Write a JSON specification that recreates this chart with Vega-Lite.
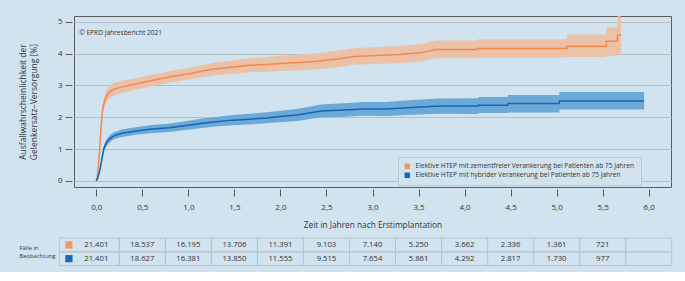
{
  "$schema": "https://vega.github.io/schema/vega-lite/v6.json",
  "background": "#d1e3ef",
  "padding": {"left": 17, "top": 15, "right": 15, "bottom": 5},
  "config": {
    "font": "Open Sans",
    "view": {"stroke": null},
    "axis": {"labelColor": "#333333", "titleColor": "#333333", "titleFontWeight": "normal", "tickColor": "#5a5a5a"}
  },
  "spacing": 8,
  "resolve": {"scale": {"x": "independent", "y": "independent", "color": "independent"}},
  "datasets": {
    "curves": [
      {"serie": "zementfrei", "t": 0, "v": 0, "lo": 0, "hi": 0},
      {"serie": "zementfrei", "t": 0.01, "v": 0.15, "lo": 0.1, "hi": 0.2},
      {"serie": "zementfrei", "t": 0.02, "v": 0.4, "lo": 0.3, "hi": 0.5},
      {"serie": "zementfrei", "t": 0.03, "v": 0.7, "lo": 0.58, "hi": 0.82},
      {"serie": "zementfrei", "t": 0.04, "v": 1.15, "lo": 1.0, "hi": 1.3},
      {"serie": "zementfrei", "t": 0.05, "v": 1.6, "lo": 1.44, "hi": 1.76},
      {"serie": "zementfrei", "t": 0.065, "v": 2.15, "lo": 1.98, "hi": 2.33},
      {"serie": "zementfrei", "t": 0.08, "v": 2.4, "lo": 2.22, "hi": 2.58},
      {"serie": "zementfrei", "t": 0.1, "v": 2.6, "lo": 2.41, "hi": 2.79},
      {"serie": "zementfrei", "t": 0.13, "v": 2.75, "lo": 2.55, "hi": 2.95},
      {"serie": "zementfrei", "t": 0.17, "v": 2.85, "lo": 2.65, "hi": 3.05},
      {"serie": "zementfrei", "t": 0.21, "v": 2.9, "lo": 2.7, "hi": 3.1},
      {"serie": "zementfrei", "t": 0.3, "v": 2.97, "lo": 2.78, "hi": 3.16},
      {"serie": "zementfrei", "t": 0.45, "v": 3.06, "lo": 2.88, "hi": 3.24},
      {"serie": "zementfrei", "t": 0.63, "v": 3.17, "lo": 2.99, "hi": 3.35},
      {"serie": "zementfrei", "t": 0.8, "v": 3.27, "lo": 3.09, "hi": 3.45},
      {"serie": "zementfrei", "t": 1.0, "v": 3.36, "lo": 3.18, "hi": 3.55},
      {"serie": "zementfrei", "t": 1.15, "v": 3.45, "lo": 3.26, "hi": 3.64},
      {"serie": "zementfrei", "t": 1.3, "v": 3.52, "lo": 3.32, "hi": 3.72},
      {"serie": "zementfrei", "t": 1.5, "v": 3.58, "lo": 3.37, "hi": 3.79},
      {"serie": "zementfrei", "t": 1.66, "v": 3.63, "lo": 3.41, "hi": 3.85},
      {"serie": "zementfrei", "t": 1.85, "v": 3.66, "lo": 3.43, "hi": 3.89},
      {"serie": "zementfrei", "t": 2.0, "v": 3.69, "lo": 3.45, "hi": 3.93},
      {"serie": "zementfrei", "t": 2.2, "v": 3.72, "lo": 3.47, "hi": 3.97},
      {"serie": "zementfrei", "t": 2.4, "v": 3.76, "lo": 3.51, "hi": 4.01},
      {"serie": "zementfrei", "t": 2.6, "v": 3.82, "lo": 3.56, "hi": 4.08},
      {"serie": "zementfrei", "t": 2.8, "v": 3.91, "lo": 3.65, "hi": 4.17},
      {"serie": "zementfrei", "t": 3.04, "v": 3.94, "lo": 3.67, "hi": 4.21},
      {"serie": "zementfrei", "t": 3.29, "v": 3.97, "lo": 3.7, "hi": 4.24},
      {"serie": "zementfrei", "t": 3.54, "v": 4.03, "lo": 3.75, "hi": 4.31},
      {"serie": "zementfrei", "t": 3.69, "v": 4.13, "lo": 3.85, "hi": 4.41},
      {"serie": "zementfrei", "t": 4.14, "v": 4.13, "lo": 3.85, "hi": 4.41},
      {"serie": "zementfrei", "t": 4.14, "v": 4.16, "lo": 3.88, "hi": 4.45},
      {"serie": "zementfrei", "t": 5.11, "v": 4.16, "lo": 3.88, "hi": 4.45},
      {"serie": "zementfrei", "t": 5.11, "v": 4.23, "lo": 3.89, "hi": 4.6},
      {"serie": "zementfrei", "t": 5.54, "v": 4.23, "lo": 3.89, "hi": 4.6},
      {"serie": "zementfrei", "t": 5.54, "v": 4.39, "lo": 3.93, "hi": 4.82},
      {"serie": "zementfrei", "t": 5.66, "v": 4.39, "lo": 3.93, "hi": 4.82},
      {"serie": "zementfrei", "t": 5.66, "v": 4.58, "lo": 4.0, "hi": 5.17},
      {"serie": "zementfrei", "t": 5.7, "v": 4.58, "lo": 4.0, "hi": 5.17},
      {"serie": "hybrid", "t": 0, "v": 0, "lo": 0, "hi": 0},
      {"serie": "hybrid", "t": 0.015, "v": 0.08, "lo": 0.05, "hi": 0.11},
      {"serie": "hybrid", "t": 0.03, "v": 0.24, "lo": 0.18, "hi": 0.3},
      {"serie": "hybrid", "t": 0.05, "v": 0.5, "lo": 0.42, "hi": 0.58},
      {"serie": "hybrid", "t": 0.065, "v": 0.76, "lo": 0.67, "hi": 0.85},
      {"serie": "hybrid", "t": 0.083, "v": 1.02, "lo": 0.92, "hi": 1.12},
      {"serie": "hybrid", "t": 0.1, "v": 1.14, "lo": 1.04, "hi": 1.25},
      {"serie": "hybrid", "t": 0.12, "v": 1.24, "lo": 1.13, "hi": 1.35},
      {"serie": "hybrid", "t": 0.15, "v": 1.33, "lo": 1.22, "hi": 1.44},
      {"serie": "hybrid", "t": 0.18, "v": 1.4, "lo": 1.29, "hi": 1.51},
      {"serie": "hybrid", "t": 0.23, "v": 1.46, "lo": 1.35, "hi": 1.57},
      {"serie": "hybrid", "t": 0.28, "v": 1.5, "lo": 1.38, "hi": 1.62},
      {"serie": "hybrid", "t": 0.43, "v": 1.57, "lo": 1.45, "hi": 1.69},
      {"serie": "hybrid", "t": 0.6, "v": 1.63, "lo": 1.5, "hi": 1.76},
      {"serie": "hybrid", "t": 0.79, "v": 1.67, "lo": 1.54, "hi": 1.8},
      {"serie": "hybrid", "t": 1.0, "v": 1.75, "lo": 1.61, "hi": 1.89},
      {"serie": "hybrid", "t": 1.15, "v": 1.81, "lo": 1.66, "hi": 1.96},
      {"serie": "hybrid", "t": 1.3, "v": 1.86, "lo": 1.71, "hi": 2.01},
      {"serie": "hybrid", "t": 1.48, "v": 1.91, "lo": 1.75, "hi": 2.07},
      {"serie": "hybrid", "t": 1.66, "v": 1.94, "lo": 1.77, "hi": 2.11},
      {"serie": "hybrid", "t": 1.85, "v": 1.98, "lo": 1.81, "hi": 2.16},
      {"serie": "hybrid", "t": 2.02, "v": 2.03, "lo": 1.85, "hi": 2.21},
      {"serie": "hybrid", "t": 2.18, "v": 2.07, "lo": 1.88, "hi": 2.26},
      {"serie": "hybrid", "t": 2.44, "v": 2.2, "lo": 2.0, "hi": 2.4},
      {"serie": "hybrid", "t": 2.69, "v": 2.23, "lo": 2.02, "hi": 2.44},
      {"serie": "hybrid", "t": 2.91, "v": 2.26, "lo": 2.05, "hi": 2.48},
      {"serie": "hybrid", "t": 3.15, "v": 2.26, "lo": 2.04, "hi": 2.48},
      {"serie": "hybrid", "t": 3.43, "v": 2.31, "lo": 2.08, "hi": 2.54},
      {"serie": "hybrid", "t": 3.73, "v": 2.35, "lo": 2.11, "hi": 2.59},
      {"serie": "hybrid", "t": 4.15, "v": 2.35, "lo": 2.1, "hi": 2.6},
      {"serie": "hybrid", "t": 4.15, "v": 2.38, "lo": 2.13, "hi": 2.64},
      {"serie": "hybrid", "t": 4.47, "v": 2.38, "lo": 2.13, "hi": 2.64},
      {"serie": "hybrid", "t": 4.47, "v": 2.43, "lo": 2.15, "hi": 2.7},
      {"serie": "hybrid", "t": 5.03, "v": 2.43, "lo": 2.15, "hi": 2.7},
      {"serie": "hybrid", "t": 5.03, "v": 2.51, "lo": 2.24, "hi": 2.79},
      {"serie": "hybrid", "t": 5.95, "v": 2.51, "lo": 2.24, "hi": 2.79}
    ],
    "table": [
      {"serie": "zementfrei", "t": 0.0, "n": "21.401"},
      {"serie": "zementfrei", "t": 0.5, "n": "18.537"},
      {"serie": "zementfrei", "t": 1.0, "n": "16.195"},
      {"serie": "zementfrei", "t": 1.5, "n": "13.706"},
      {"serie": "zementfrei", "t": 2.0, "n": "11.391"},
      {"serie": "zementfrei", "t": 2.5, "n": "9.103"},
      {"serie": "zementfrei", "t": 3.0, "n": "7.140"},
      {"serie": "zementfrei", "t": 3.5, "n": "5.250"},
      {"serie": "zementfrei", "t": 4.0, "n": "3.662"},
      {"serie": "zementfrei", "t": 4.5, "n": "2.336"},
      {"serie": "zementfrei", "t": 5.0, "n": "1.361"},
      {"serie": "zementfrei", "t": 5.5, "n": "721"},
      {"serie": "zementfrei", "t": 6.0, "n": ""},
      {"serie": "hybrid", "t": 0.0, "n": "21.401"},
      {"serie": "hybrid", "t": 0.5, "n": "18.627"},
      {"serie": "hybrid", "t": 1.0, "n": "16.381"},
      {"serie": "hybrid", "t": 1.5, "n": "13.850"},
      {"serie": "hybrid", "t": 2.0, "n": "11.555"},
      {"serie": "hybrid", "t": 2.5, "n": "9.515"},
      {"serie": "hybrid", "t": 3.0, "n": "7.654"},
      {"serie": "hybrid", "t": 3.5, "n": "5.861"},
      {"serie": "hybrid", "t": 4.0, "n": "4.292"},
      {"serie": "hybrid", "t": 4.5, "n": "2.817"},
      {"serie": "hybrid", "t": 5.0, "n": "1.730"},
      {"serie": "hybrid", "t": 5.5, "n": "977"},
      {"serie": "hybrid", "t": 6.0, "n": ""}
    ]
  },
  "vconcat": [
    {
      "name": "top",
      "width": 597,
      "height": 171,
      "view": {"stroke": "#5a5a5a", "strokeWidth": 1},
      "data": {"name": "curves"},
      "encoding": {
        "x": {
          "field": "t", "type": "quantitative",
          "scale": {"domain": [-0.242, 6.242], "nice": false, "zero": false},
          "axis": {
            "title": "Zeit in Jahren nach Erstimplantation",
            "values": [0, 0.5, 1, 1.5, 2, 2.5, 3, 3.5, 4, 4.5, 5, 5.5, 6], "tickCount": 20,
            "labelExpr": "replace(format(datum.value, '.1f'), '.', ',')",
            "grid": false, "domain": false, "offset": 2, "tickSize": 7,
            "labelPadding": 7, "labelFontSize": 8, "titleFontSize": 8.3, "titlePadding": 9
          }
        }
      },
      "layer": [
        {
          "mark": {"type": "area", "opacity": 1},
          "encoding": {
            "y": {
              "field": "lo", "type": "quantitative",
              "scale": {"domain": [-0.19, 5.18], "nice": false, "zero": false},
              "axis": {
                "title": ["Ausfallwahrscheinlichkeit der", "Gelenkersatz\u2013Versorgung [%]"],
                "values": [0, 1, 2, 3, 4, 5], "tickCount": 10, "format": "d", "labelOverlap": false,
                "grid": true, "gridColor": "#b4bec6", "domain": false,
                "offset": 2, "tickSize": 7, "labelPadding": 3, "labelFontSize": 8,
                "titleFontSize": 8.5, "titlePadding": 19, "titleLineHeight": 11
              }
            },
            "y2": {"field": "hi"},
            "fill": {
              "field": "serie", "type": "nominal",
              "scale": {"domain": ["zementfrei", "hybrid"], "range": ["#ebc2a8", "#6ba9d8"]},
              "legend": null
            }
          }
        },
        {
          "mark": {"type": "line", "strokeWidth": 1.5},
          "encoding": {
            "y": {
              "field": "v", "type": "quantitative",
              "scale": {"domain": [-0.19, 5.18], "nice": false, "zero": false},
              "axis": {
                "title": ["Ausfallwahrscheinlichkeit der", "Gelenkersatz\u2013Versorgung [%]"],
                "values": [0, 1, 2, 3, 4, 5], "tickCount": 10, "format": "d", "labelOverlap": false,
                "grid": true, "gridColor": "#b4bec6", "domain": false,
                "offset": 2, "tickSize": 7, "labelPadding": 3, "labelFontSize": 8,
                "titleFontSize": 8.5, "titlePadding": 19, "titleLineHeight": 11
              }
            },
            "color": {
              "field": "serie", "type": "nominal",
              "scale": {"domain": ["zementfrei", "hybrid"], "range": ["#f28a4c", "#1565b0"]},
              "legend": {
                "orient": "none", "legendX": 324, "legendY": 141,
                "title": null, "symbolType": "square", "symbolSize": 30,
                "labelFontSize": 6.6, "labelColor": "#333333", "labelOffset": 5, "labelLimit": 400,
                "padding": 6, "rowPadding": 2,
                "strokeColor": "#bcc7cf", "fillColor": "#d1e3ef",
                "labelExpr": "datum.label == 'zementfrei' ? 'Elektive HTEP mit zementfreier Verankerung bei Patienten ab 75 Jahren' : 'Elektive HTEP mit hybrider Verankerung bei Patienten ab 75 Jahren'",
                "encode": {
                  "symbols": {
                    "update": {
                      "fill": {"signal": "datum.value == 'zementfrei' ? '#f4975c' : '#1868b3'"},
                      "strokeWidth": {"value": 0}
                    }
                  }
                }
              }
            }
          }
        },
        {
          "data": {"values": [{"note": "\u00a9 EPRD Jahresbericht 2021", "t": -0.185, "v": 4.66}]},
          "mark": {"type": "text", "align": "left", "baseline": "middle", "fontSize": 6.6, "fill": "#333333"},
          "encoding": {
            "y": {"field": "v", "type": "quantitative"},
            "text": {"field": "note", "type": "nominal"}
          }
        }
      ]
    },
    {
      "name": "bottom",
      "width": 597,
      "height": 27.6,
      "data": {"name": "table"},
      "encoding": {
        "x": {
          "field": "t", "type": "quantitative",
          "scale": {"domain": [-0.242, 6.242], "nice": false, "zero": false},
          "axis": null
        },
        "y": {
          "field": "serie", "type": "nominal",
          "scale": {"domain": ["zementfrei", "hybrid"], "paddingInner": 0, "paddingOuter": 0},
          "axis": {
            "title": ["F\u00e4lle in", "Beobachtung"],
            "labels": false, "ticks": false, "domain": false, "grid": false,
            "titleAngle": 0, "titleAlign": "left", "titleBaseline": "top",
            "titleX": -55, "titleY": 6, "titleFontSize": 5.8, "titleLineHeight": 8.4
          }
        }
      },
      "layer": [
        {
          "transform": [{"filter": "datum.t > 0"}],
          "mark": {"type": "rect", "width": 46, "fillOpacity": 0, "stroke": "#b9c4cc", "strokeWidth": 1}
        },
        {
          "transform": [{"filter": "datum.t == 0"}],
          "mark": {"type": "rect", "fillOpacity": 0, "stroke": "#b9c4cc", "strokeWidth": 1},
          "encoding": {"x": {"datum": -0.4}, "x2": {"datum": 0.25}}
        },
        {
          "transform": [{"filter": "datum.t == 0"}],
          "mark": {"type": "point", "shape": "square", "filled": true, "size": 52, "opacity": 1},
          "encoding": {
            "x": {"datum": -0.297},
            "color": {
              "field": "serie", "type": "nominal",
              "scale": {"domain": ["zementfrei", "hybrid"], "range": ["#f4975c", "#1868b3"]},
              "legend": null
            }
          }
        },
        {
          "mark": {"type": "text", "fontSize": 7.7, "color": "#333333"},
          "encoding": {"text": {"field": "n"}}
        }
      ]
    }
  ]
}
